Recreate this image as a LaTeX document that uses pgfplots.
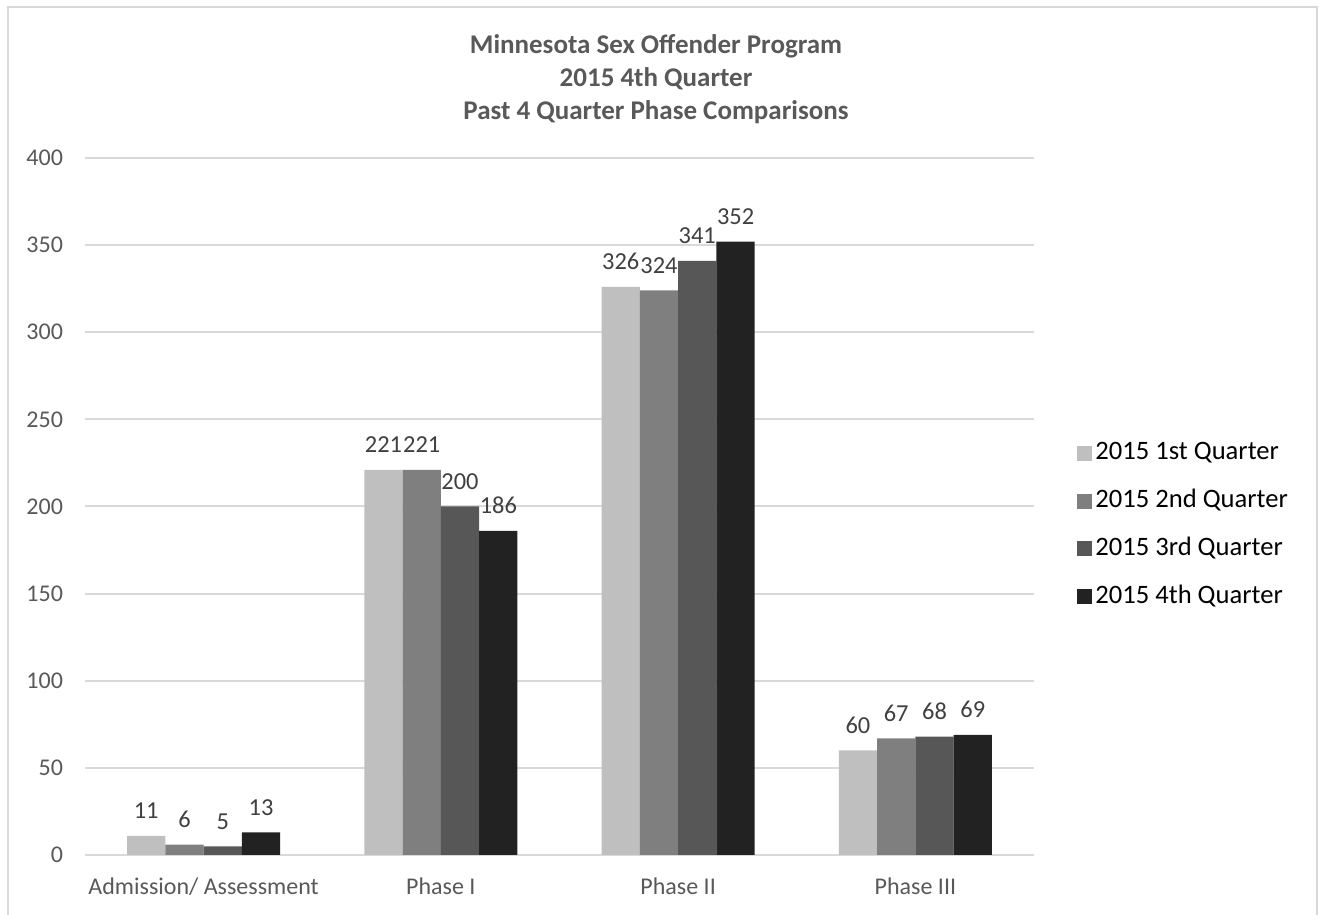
\documentclass[border=0pt]{standalone}
\usepackage{pgfplots}
\pgfplotsset{compat=1.18}
\usepackage{fontspec}
\setmainfont{Carlito}
\definecolor{q1}{HTML}{BFBFBF}
\definecolor{q2}{HTML}{7F7F7F}
\definecolor{q3}{HTML}{575757}
\definecolor{q4}{HTML}{222222}
\definecolor{gridc}{HTML}{D9D9D9}
\definecolor{txt}{HTML}{595959}
\definecolor{lbl}{HTML}{404040}
\begin{document}
\begin{tikzpicture}
\useasboundingbox (0,0) rectangle (660pt,457pt);
\fill[white] (0,0) rectangle (660pt,457pt);
% chart frame (bottom edge is cut off in the reference)
\draw[gridc, line width=1pt] (4.2pt,-5pt) -- (4.2pt,453.4pt) -- (658.7pt,453.4pt) -- (658.7pt,-5pt);
% title
\node[align=center, font=\fontsize{13.5}{16.5}\selectfont\bfseries, text=txt] at (328pt,417.5pt)
  {Minnesota Sex Offender Program\\2015 4th Quarter\\Past 4 Quarter Phase Comparisons};
\begin{axis}[
  at={(42.5pt,29.5pt)}, anchor=south west,
  scale only axis, width=474.5pt, height=348.5pt,
  ybar=0pt, bar width=19.15pt,
  xmin=-0.5, xmax=3.5, ymin=0, ymax=400,
  xtick={0,1,2,3},
  xticklabels={Admission/ Assessment, Phase I, Phase II, Phase III},
  ytick={0,50,...,400},
  ymajorgrids, grid style={gridc, line width=1pt},
  axis line style={draw=none}, major tick length=0pt,
  tick label style={font=\fontsize{12}{14}\selectfont, text=txt},
  xticklabel style={yshift=-8pt},
  yticklabel style={xshift=-7.5pt},
  /pgf/number format/assume math mode=true,
  nodes near coords,
  every node near coord/.append style={font=\fontsize{12.2}{14}\selectfont, text=lbl, yshift=5pt},
  legend cell align=left,
  legend image code/.code={\fill[#1] (0pt,-3.75pt) rectangle (7.5pt,3.75pt);},
  legend style={draw=none, fill=none, at={(1.0453,0.4734)}, anchor=west,
    inner sep=0pt, font=\fontsize{13.3}{15}\selectfont, text=black, row sep=9.4pt,
    nodes={inner sep=1.5pt, text height=9pt, text depth=2.5pt}},
]
\addplot[fill=q1, draw=none] coordinates {(0,11) (1,221) (2,326) (3,60)};
\addplot[fill=q2, draw=none] coordinates {(0,6) (1,221) (2,324) (3,67)};
\addplot[fill=q3, draw=none] coordinates {(0,5) (1,200) (2,341) (3,68)};
\addplot[fill=q4, draw=none] coordinates {(0,13) (1,186) (2,352) (3,69)};
\legend{2015 1st Quarter, 2015 2nd Quarter, 2015 3rd Quarter, 2015 4th Quarter}
\end{axis}
\end{tikzpicture}
\end{document}
